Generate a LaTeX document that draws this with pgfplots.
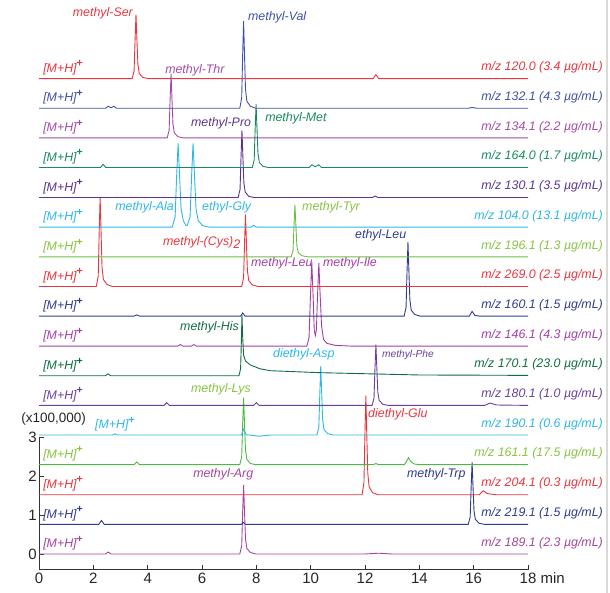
\documentclass[border=0pt]{standalone}
\usepackage{fontspec}
\setmainfont{Liberation Sans}
\usepackage{pgfplots}
\pgfplotsset{compat=1.18}
\definecolor{cSer}{HTML}{E8363E}
\definecolor{cVal}{HTML}{3F51A5}
\definecolor{cThr}{HTML}{A44BA8}
\definecolor{cMet}{HTML}{178A5C}
\definecolor{cPro}{HTML}{5A3492}
\definecolor{cAla}{HTML}{2DB7EA}
\definecolor{cTyr}{HTML}{6CBE45}
\definecolor{cTyrL}{HTML}{86C440}
\definecolor{cLeuE}{HTML}{2E3C90}
\definecolor{cLeu}{HTML}{A23FA8}
\definecolor{cHis}{HTML}{0F6D40}
\definecolor{cPhe}{HTML}{6840A0}
\definecolor{cLys}{HTML}{4DB848}
\definecolor{cLysL}{HTML}{86C440}
\definecolor{cTrp}{HTML}{2B3A92}
\definecolor{cArg}{HTML}{A4459F}
\newcommand{\lab}{\fontsize{12.4}{14}\selectfont\itshape}
\newcommand{\MH}{[M+H]\raisebox{5.5pt}{\fontsize{10.5}{11}\selectfont\upshape\bfseries +}}
\begin{document}
\begin{tikzpicture}
\path[use as bounding box] (0,0) rectangle (610pt,593pt);
\begin{axis}[
 x=27.17pt, y=39pt, anchor=origin, at={(39pt,39pt)},
 xmin=0, xmax=18, ymin=-0.4, ymax=14.2,
 clip=false,
 axis x line*=bottom, axis y line*=left,
 x axis line style={-, line width=0.8pt, black!80},
 y axis line style={draw=none},
 tick align=inside, major tick length=5pt,
 tick style={black!80, line width=0.8pt},
 xtick={0,2,...,18}, xticklabels={0,2,4,6,8,10,12,14,16,18\rlap{ min}},
 ytick={0,1,2,3}, yticklabels={0,1,2,3},
 ticklabel style={font=\fontsize{15}{17}\selectfont, text=black!85},
 xticklabel style={yshift=-3pt},
 yticklabel style={xshift=-2pt},
 every axis plot/.append style={line width=0.9pt, mark=none},
 nodes={inner sep=0pt},
]
\draw[black!80, line width=0.8pt] (axis cs:0,-0.4) -- (axis cs:0,3);
% Arg
\addplot[cArg] coordinates {(0,0)(2.45,0)(2.55,0.05)(2.65,0)(7.39,0)(7.46,0.21)(7.495,1.06)(7.53,1.77)(7.565,1.06)(7.60,0.39)(7.65,0.14)(7.78,0.04)(7.98,0)(12,0)(12.5,0.02)(13,0)(18,0)};
% Trp
\addplot[cTrp] coordinates {(0,0.76)(2.2,0.76)(2.3,0.86)(2.4,0.76)(7.45,0.76)(7.52,0.81)(7.6,0.76)(15.80,0.76)(15.87,0.95)(15.905,1.71)(15.94,2.35)(15.975,1.71)(16.01,1.11)(16.06,0.89)(16.19,0.79)(16.39,0.76)(18,0.76)};
% Glu
\addplot[cSer] coordinates {(0,1.52)(11.89,1.52)(11.96,1.83)(11.995,3.04)(12.03,4.06)(12.065,3.04)(12.10,2.08)(12.15,1.72)(12.28,1.57)(12.48,1.52)(16.2,1.52)(16.35,1.62)(16.5,1.55)(16.8,1.52)(18,1.52)};
% Lys
\addplot[cLys] coordinates {(0,2.29)(3.5,2.29)(3.6,2.36)(3.7,2.29)(7.39,2.29)(7.46,2.50)(7.495,3.32)(7.53,4.01)(7.565,3.32)(7.60,2.67)(7.65,2.43)(7.78,2.32)(7.98,2.29)(12.3,2.29)(12.4,2.32)(12.5,2.29)(13.45,2.29)(13.53,2.38)(13.6,2.47)(13.67,2.38)(13.8,2.31)(14.0,2.29)(18,2.29)};
% Asp
\addplot[cAla] coordinates {(0,3.05)(2.7,3.05)(2.8,3.08)(2.9,3.05)(7.45,3.05)(7.53,3.2)(7.62,3.06)(8.1,3.02)(8.5,3.05)(10.23,3.05)(10.30,3.26)(10.335,4.11)(10.37,4.82)(10.405,4.11)(10.44,3.44)(10.49,3.19)(10.62,3.09)(10.82,3.05)(18,3.05)};
% Phe
\addplot[cPhe] coordinates {(0,3.81)(4.6,3.81)(4.7,3.88)(4.8,3.81)(7.9,3.81)(8.0,3.88)(8.1,3.81)(12.26,3.81)(12.33,4.00)(12.365,4.75)(12.40,5.37)(12.435,4.75)(12.47,4.15)(12.52,3.94)(12.65,3.84)(12.85,3.81)(16.4,3.81)(16.6,3.87)(16.85,3.82)(18,3.81)};
% His
\addplot[cHis] coordinates {(0,4.57)(2.44,4.57)(2.54,4.62)(2.64,4.57)(7.36,4.57)(7.42,4.75)(7.45,5.5)(7.47,6.13)(7.495,5.6)(7.53,5.1)(7.6,4.95)(7.77,4.85)(8.13,4.75)(8.5,4.70)(10.3,4.65)(14,4.59)(18,4.58)};
% Leu / Ile
\addplot[cLeu] coordinates {(0,5.33)(5.1,5.33)(5.2,5.37)(5.3,5.33)(5.6,5.33)(5.7,5.37)(5.8,5.33)(9.86,5.33)(9.94,5.55)(9.99,6.6)(10.04,7.48)(10.09,6.6)(10.13,5.75)(10.17,5.6)(10.21,5.75)(10.25,6.6)(10.30,7.46)(10.35,6.6)(10.40,5.85)(10.47,5.5)(10.6,5.40)(10.9,5.35)(11.5,5.33)(18,5.33)};
% ethyl-Leu
\addplot[cLeuE] coordinates {(0,6.10)(3.5,6.10)(3.6,6.13)(3.7,6.10)(7.42,6.10)(7.5,6.18)(7.58,6.10)(13.44,6.10)(13.51,6.33)(13.545,7.24)(13.58,8.00)(13.615,7.24)(13.65,6.52)(13.70,6.25)(13.83,6.14)(14.03,6.10)(15.84,6.10)(15.94,6.22)(16.04,6.12)(16.2,6.10)(18,6.10)};
% Cys2
\addplot[cSer] coordinates {(0,6.86)(2.11,6.86)(2.18,7.13)(2.215,8.23)(2.25,9.14)(2.285,8.23)(2.32,7.36)(2.37,7.04)(2.50,6.91)(2.70,6.86)(7.46,6.86)(7.53,7.08)(7.565,7.97)(7.60,8.71)(7.635,7.97)(7.67,7.27)(7.72,7.01)(7.85,6.90)(8.05,6.86)(18,6.86)};
% Tyr
\addplot[cTyr] coordinates {(0,7.62)(9.28,7.62)(9.35,7.78)(9.385,8.42)(9.42,8.95)(9.455,8.42)(9.49,7.91)(9.54,7.73)(9.67,7.65)(9.87,7.62)(18,7.62)};
% Ala / Gly
\addplot[cAla] coordinates {(0,8.38)(4.90,8.38)(5.01,8.64)(5.065,9.67)(5.12,10.53)(5.175,9.67)(5.23,8.85)(5.31,8.55)(5.40,8.43)(5.45,8.42)(5.56,8.64)(5.615,9.67)(5.67,10.53)(5.725,9.67)(5.78,8.85)(5.86,8.55)(6.02,8.42)(6.27,8.38)(7.8,8.38)(7.9,8.43)(8.0,8.38)(18,8.38)};
% Pro
\addplot[cPro] coordinates {(0,9.14)(7.33,9.14)(7.40,9.35)(7.435,10.17)(7.47,10.86)(7.505,10.17)(7.54,9.52)(7.59,9.28)(7.72,9.17)(7.92,9.14)(12.27,9.14)(12.37,9.18)(12.47,9.14)(18,9.14)};
% Met
\addplot[cMet] coordinates {(0,9.91)(2.26,9.91)(2.36,9.99)(2.46,9.91)(7.85,9.91)(7.92,10.10)(7.955,10.88)(7.99,11.53)(8.025,10.88)(8.06,10.27)(8.11,10.04)(8.24,9.94)(8.44,9.91)(9.95,9.91)(10.05,9.98)(10.17,9.93)(10.3,9.98)(10.4,9.91)(18,9.91)};
% Thr
\addplot[cThr] coordinates {(0,10.67)(4.72,10.67)(4.79,10.87)(4.825,11.65)(4.86,12.31)(4.895,11.65)(4.93,11.03)(4.98,10.80)(5.11,10.70)(5.31,10.67)(18,10.67)};
% Val
\addplot[cVal] coordinates {(0,11.43)(2.45,11.43)(2.55,11.48)(2.65,11.44)(2.75,11.48)(2.85,11.43)(7.39,11.43)(7.46,11.70)(7.495,12.77)(7.53,13.66)(7.565,12.77)(7.60,11.92)(7.65,11.61)(7.78,11.48)(7.98,11.43)(15.8,11.43)(15.95,11.45)(16.1,11.43)(18,11.43)};
% Ser
\addplot[cSer] coordinates {(0,12.19)(3.43,12.19)(3.50,12.39)(3.535,13.17)(3.57,13.83)(3.605,13.17)(3.64,12.55)(3.69,12.32)(3.82,12.22)(4.02,12.19)(12.3,12.19)(12.4,12.29)(12.5,12.19)(18,12.19)};

% left labels
\node[anchor=base west, text=cSer, font=\lab] at (axis cs:0.15,12.35) {\MH};
\node[anchor=base west, text=cVal, font=\lab] at (axis cs:0.15,11.59) {\MH};
\node[anchor=base west, text=cThr, font=\lab] at (axis cs:0.15,10.83) {\MH};
\node[anchor=base west, text=cMet, font=\lab] at (axis cs:0.15,10.07) {\MH};
\node[anchor=base west, text=cPro, font=\lab] at (axis cs:0.15,9.30) {\MH};
\node[anchor=base west, text=cAla, font=\lab] at (axis cs:0.15,8.54) {\MH};
\node[anchor=base west, text=cTyrL, font=\lab] at (axis cs:0.15,7.78) {\MH};
\node[anchor=base west, text=cSer, font=\lab] at (axis cs:0.15,7.02) {\MH};
\node[anchor=base west, text=cLeuE, font=\lab] at (axis cs:0.15,6.26) {\MH};
\node[anchor=base west, text=cLeu, font=\lab] at (axis cs:0.15,5.49) {\MH};
\node[anchor=base west, text=cHis, font=\lab] at (axis cs:0.15,4.73) {\MH};
\node[anchor=base west, text=cPhe, font=\lab] at (axis cs:0.15,3.97) {\MH};
\node[anchor=base west, text=cAla, font=\lab] at (axis cs:2.06,3.21) {\MH};
\node[anchor=base west, text=cLysL, font=\lab] at (axis cs:0.15,2.45) {\MH};
\node[anchor=base west, text=cSer, font=\lab] at (axis cs:0.15,1.68) {\MH};
\node[anchor=base west, text=cTrp, font=\lab] at (axis cs:0.15,0.92) {\MH};
\node[anchor=base west, text=cArg, font=\lab] at (axis cs:0.15,0.16) {\MH};

% right labels
\node[anchor=base east, text=cSer, font=\lab] at (axis cs:20.76,12.39) {m/z 120.0 (3.4 µg/mL)};
\node[anchor=base east, text=cVal, font=\lab] at (axis cs:20.76,11.63) {m/z 132.1 (4.3 µg/mL)};
\node[anchor=base east, text=cThr, font=\lab] at (axis cs:20.76,10.87) {m/z 134.1 (2.2 µg/mL)};
\node[anchor=base east, text=cMet, font=\lab] at (axis cs:20.76,10.11) {m/z 164.0 (1.7 µg/mL)};
\node[anchor=base east, text=cPro, font=\lab] at (axis cs:20.76,9.34) {m/z 130.1 (3.5 µg/mL)};
\node[anchor=base east, text=cAla, font=\lab] at (axis cs:20.76,8.58) {m/z 104.0 (13.1 µg/mL)};
\node[anchor=base east, text=cTyrL, font=\lab] at (axis cs:20.76,7.82) {m/z 196.1 (1.3 µg/mL)};
\node[anchor=base east, text=cSer, font=\lab] at (axis cs:20.76,7.06) {m/z 269.0 (2.5 µg/mL)};
\node[anchor=base east, text=cLeuE, font=\lab] at (axis cs:20.76,6.30) {m/z 160.1 (1.5 µg/mL)};
\node[anchor=base east, text=cLeu, font=\lab] at (axis cs:20.76,5.53) {m/z 146.1 (4.3 µg/mL)};
\node[anchor=base east, text=cHis, font=\lab] at (axis cs:20.76,4.77) {m/z 170.1 (23.0 µg/mL)};
\node[anchor=base east, text=cPhe, font=\lab] at (axis cs:20.76,4.01) {m/z 180.1 (1.0 µg/mL)};
\node[anchor=base east, text=cAla, font=\lab] at (axis cs:20.76,3.25) {m/z 190.1 (0.6 µg/mL)};
\node[anchor=base east, text=cLysL, font=\lab] at (axis cs:20.76,2.49) {m/z 161.1 (17.5 µg/mL)};
\node[anchor=base east, text=cSer, font=\lab] at (axis cs:20.76,1.72) {m/z 204.1 (0.3 µg/mL)};
\node[anchor=base east, text=cTrp, font=\lab] at (axis cs:20.76,0.96) {m/z 219.1 (1.5 µg/mL)};
\node[anchor=base east, text=cArg, font=\lab] at (axis cs:20.76,0.20) {m/z 189.1 (2.3 µg/mL)};

% peak labels
\node[anchor=base east, text=cSer, font=\lab] at (axis cs:3.46,13.79) {methyl-Ser};
\node[anchor=base west, text=cVal, font=\lab] at (axis cs:7.69,13.67) {methyl-Val};
\node[anchor=base west, text=cThr, font=\lab] at (axis cs:4.64,12.33) {methyl-Thr};
\node[anchor=base west, text=cMet, font=\lab] at (axis cs:8.32,11.08) {methyl-Met};
\node[anchor=base west, text=cPro, font=\lab] at (axis cs:5.59,10.97) {methyl-Pro};
\node[anchor=base west, text=cAla, font=\lab] at (axis cs:2.80,8.82) {methyl-Ala};
\node[anchor=base west, text=cAla, font=\lab] at (axis cs:6.00,8.82) {ethyl-Gly};
\node[anchor=base west, text=cTyrL, font=\lab] at (axis cs:9.68,8.82) {methyl-Tyr};
\node[anchor=base west, text=cSer, font=\lab] at (axis cs:4.56,7.92) {methyl-(Cys)\raisebox{-3pt}{2}};
\node[anchor=base west, text=cLeu, font=\lab] at (axis cs:7.80,7.36) {methyl-Leu};
\node[anchor=base west, text=cLeu, font=\lab] at (axis cs:10.45,7.36) {methyl-Ile};
\node[anchor=base west, text=cLeuE, font=\lab] at (axis cs:11.63,8.10) {ethyl-Leu};
\node[anchor=base west, text=cHis, font=\lab] at (axis cs:5.19,5.72) {methyl-His};
\node[anchor=base west, text=cAla, font=\lab] at (axis cs:8.61,5.03) {diethyl-Asp};
\node[anchor=base west, text=cPhe, font=\fontsize{10.2}{12}\selectfont\itshape] at (axis cs:12.62,5.05) {methyl-Phe};
\node[anchor=base west, text=cLysL, font=\lab] at (axis cs:5.59,4.13) {methyl-Lys};
\node[anchor=base west, text=cSer, font=\lab] at (axis cs:12.11,3.51) {diethyl-Glu};
\node[anchor=base west, text=cTrp, font=\lab] at (axis cs:13.54,1.95) {methyl-Trp};
\node[anchor=base west, text=cArg, font=\lab] at (axis cs:5.67,1.97) {methyl-Arg};

\node[anchor=base west, text=black!85, font=\fontsize{13.5}{15}\selectfont] at (axis cs:-0.66,3.36) {(x100,000)};
\end{axis}
\draw[black!15, line width=2pt] (606.5pt,0pt) -- (606.5pt,593pt);
\end{tikzpicture}
\end{document}
